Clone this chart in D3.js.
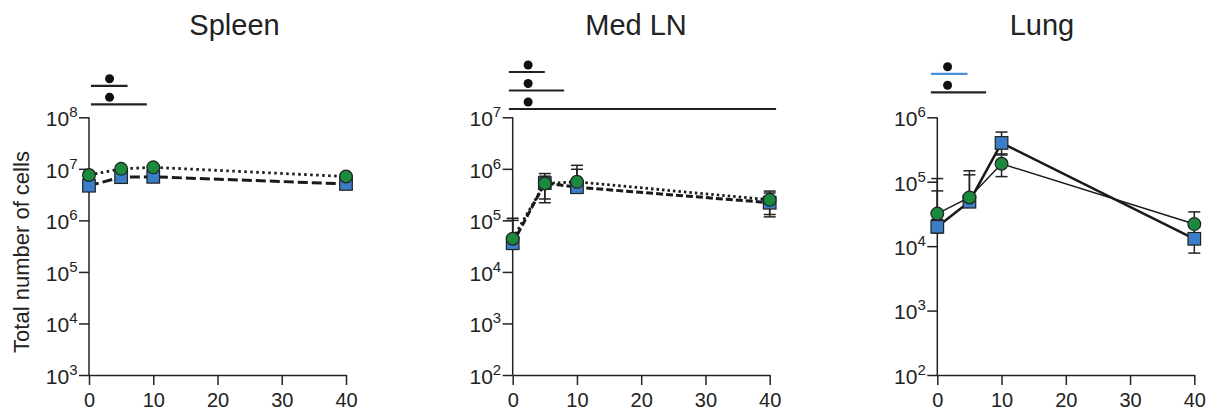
<!DOCTYPE html>
<html>
<head>
<meta charset="utf-8">
<script src="https://cdn.jsdelivr.net/npm/d3@7"></script>
<style>
  body { margin: 0; background: #fff; }
  svg { display: block; font-family: "Liberation Sans", Arial, sans-serif; }
</style>
</head>
<body>
<svg id="chart" width="1213" height="415"></svg>
<script>
// time points (x) and axis ticks
var days = [0, 5, 10, 40];
var xTicks = [0, 10, 20, 30, 40];
var panelNames = ["Spleen", "Med LN", "Lung"];

// y axis decades (exponents of 10) for each panel
var spleenExp = [3, 4, 5, 6, 7, 8];
var medExp = [2, 3, 4, 5, 6, 7];
var lungExp = [2, 3, 4, 5, 6];

// Spleen values
var spleenBlue = [4.7e6, 6.9e6, 7.0e6, 5.1e6];
var spleenGreen = [7.6e6, 1.0e7, 1.07e7, 7.1e6];
var spleenBlueHi = [5.3e6, 7.6e6, 7.7e6, 5.6e6];
var spleenBlueLo = [4.2e6, 6.3e6, 6.4e6, 4.6e6];
var spleenGreenHi = [8.4e6, 1.1e7, 1.15e7, 7.8e6];
var spleenGreenLo = [6.9e6, 9.2e6, 9.8e6, 6.5e6];

// Med LN values
var medBlue = [3.6e4, 5.3e5, 4.4e5, 2.2e5];
var medGreen = [4.4e4, 5.2e5, 5.6e5, 2.5e5];
var medBlueHi = [1.1e5, 8.1e5, 9.8e5, 3.7e5];
var medBlueLo = [3.0e4, 2.2e5, 3.4e5, 1.17e5];
var medGreenHi = [1.0e5, 7.2e5, 1.17e6, 3.4e5];
var medGreenLo = [3.6e4, 2.6e5, 4.2e5, 1.3e5];

// Lung values
var lungBlue = [2.0e4, 4.9e4, 4.0e5, 1.3e4];
var lungGreen = [3.2e4, 5.7e4, 1.9e5, 2.2e4];
var lungBlueHi = [7.2e4, 1.28e5, 5.9e5, 2.0e4];
var lungBlueLo = [1.6e4, 4.0e4, 2.7e5, 7.8e3];
var lungGreenHi = [1.12e5, 1.48e5, 2.6e5, 3.4e4];
var lungGreenLo = [2.6e4, 4.7e4, 1.2e5, 1.6e4];

// significance bars: start / end in days, dot position in days
var spleenSigStart = [0.3, 0.3];
var spleenSigEnd = [6, 9];
var spleenSigColor = ["#222", "#222"];
var medSigStart = [-0.6, -0.6, -0.6];
var medSigEnd = [5, 8, 41];
var medSigColor = ["#222", "#222", "#222"];
var lungSigStart = [-1, -1];
var lungSigEnd = [4.7, 7.6];
var lungSigColor = ["#4a90d9", "#222"];
var sigDot = [3.2, 2.4, 1.6];

var blueFill = "#3b7dc6";
var greenFill = "#1b8a3d";

var panels = [
    {name: panelNames[0], exp: spleenExp, left: 89, titleX: 234.5, sigBottom: 104.3,
     blue: {v: spleenBlue, hi: spleenBlueHi, lo: spleenBlueLo},
     green: {v: spleenGreen, hi: spleenGreenHi, lo: spleenGreenLo},
     sig: {s: spleenSigStart, e: spleenSigEnd, c: spleenSigColor},
     blueLine: {w: 3, dash: "10,4"}, greenLine: {w: 2.8, dash: "2.5,3.5"}},
    {name: panelNames[1], exp: medExp, left: 512.7, titleX: 636, sigBottom: 109,
     blue: {v: medBlue, hi: medBlueHi, lo: medBlueLo},
     green: {v: medGreen, hi: medGreenHi, lo: medGreenLo},
     sig: {s: medSigStart, e: medSigEnd, c: medSigColor},
     blueLine: {w: 3, dash: "7,3"}, greenLine: {w: 2.8, dash: "2.5,3"}},
    {name: panelNames[2], exp: lungExp, left: 937.3, titleX: 1042, sigBottom: 92.3,
     blue: {v: lungBlue, hi: lungBlueHi, lo: lungBlueLo},
     green: {v: lungGreen, hi: lungGreenHi, lo: lungGreenLo},
     sig: {s: lungSigStart, e: lungSigEnd, c: lungSigColor},
     blueLine: {w: 2.6, dash: null}, greenLine: {w: 1.5, dash: null}}
];

var plotTop = 117.3;
var plotBottom = 375;
var plotWidth = 257;
var axisColor = "#222";

var svg = d3.select("#chart");

// y axis label
svg.append("text")
    .attr("transform", "translate(29,252) rotate(-90)")
    .attr("text-anchor", "middle")
    .attr("font-size", "22px")
    .attr("fill", "#222")
    .text("Total number of cells");

panels.forEach(function (p, pi) {
    var xScale = d3.scaleLinear().domain([0, 40]).range([p.left, p.left + plotWidth]);
    var yScale = d3.scaleLog()
        .domain([Math.pow(10, p.exp[0]), Math.pow(10, p.exp[p.exp.length - 1])])
        .range([plotBottom, plotTop]);

    var g = svg.append("g");

    // title
    g.append("text")
        .attr("x", p.titleX)
        .attr("y", 35)
        .attr("text-anchor", "middle")
        .attr("font-size", "29px")
        .attr("fill", "#222")
        .text(p.name);

    // axes
    var yAxis = d3.axisLeft(yScale)
        .tickValues(p.exp.map(function (e) { return Math.pow(10, e); }))
        .tickSize(10)
        .tickPadding(1.5)
        .tickFormat("");
    var yg = g.append("g")
        .attr("transform", "translate(" + p.left + ",0)")
        .call(yAxis);
    yg.select(".domain").attr("d", "M0," + plotTop + "V" + plotBottom);
    yg.selectAll(".tick text")
        .attr("font-size", "21px")
        .attr("fill", "#222")
        .attr("dy", "0.4em")
        .each(function (d, i) {
            var t = d3.select(this);
            t.text("10");
            t.append("tspan")
                .attr("font-size", "15px")
                .attr("dy", "-9")
                .text(p.exp[i]);
        });

    var xAxis = d3.axisBottom(xScale)
        .tickValues(xTicks)
        .tickSize(10)
        .tickPadding(8)
        .tickSizeOuter(0);
    var xg = g.append("g")
        .attr("transform", "translate(0," + plotBottom + ")")
        .call(xAxis);
    xg.selectAll(".tick text").attr("font-size", "20px").attr("fill", "#222");

    g.selectAll(".domain, .tick line")
        .attr("stroke", axisColor)
        .attr("stroke-width", 1.5);

    // significance bars
    var sig = p.sig;
    sig.e.forEach(function (end, i) {
        var y = p.sigBottom - (sig.e.length - 1 - i) * 18.5;
        g.append("line")
            .attr("x1", xScale(sig.s[i]))
            .attr("x2", xScale(end))
            .attr("y1", y)
            .attr("y2", y)
            .attr("stroke", sig.c[i])
            .attr("stroke-width", 2.2);
        g.append("circle")
            .attr("cx", xScale(sigDot[pi]))
            .attr("cy", y - 7)
            .attr("r", 4.5)
            .attr("fill", "#111");
    });

    // error bars
    [p.blue, p.green].forEach(function (s) {
        days.forEach(function (d, i) {
            var x = xScale(d);
            var yHi = yScale(s.hi[i]);
            var yLo = yScale(s.lo[i]);
            g.append("line")
                .attr("x1", x).attr("x2", x)
                .attr("y1", yHi).attr("y2", yLo)
                .attr("stroke", "#222").attr("stroke-width", 1.5);
            [yHi, yLo].forEach(function (yy) {
                g.append("line")
                    .attr("x1", x - 6).attr("x2", x + 6)
                    .attr("y1", yy).attr("y2", yy)
                    .attr("stroke", "#222").attr("stroke-width", 1.5);
            });
        });
    });

    // lines
    var line = d3.line()
        .x(function (d, i) { return xScale(days[i]); })
        .y(function (d) { return yScale(d); });

    [[p.blue, p.blueLine], [p.green, p.greenLine]].forEach(function (pair) {
        g.append("path")
            .attr("d", line(pair[0].v))
            .attr("fill", "none")
            .attr("stroke", "#1a1a1a")
            .attr("stroke-width", pair[1].w)
            .attr("stroke-dasharray", pair[1].dash);
    });

    // markers: blue squares, then green circles on top
    g.selectAll(".sq")
        .data(p.blue.v)
        .enter()
        .append("rect")
        .attr("x", function (d, i) { return xScale(days[i]) - 6.3; })
        .attr("y", function (d) { return yScale(d) - 6.3; })
        .attr("width", 12.6)
        .attr("height", 12.6)
        .attr("fill", blueFill)
        .attr("stroke", "#222")
        .attr("stroke-width", 1.2);

    g.selectAll(".dot")
        .data(p.green.v)
        .enter()
        .append("circle")
        .attr("cx", function (d, i) { return xScale(days[i]); })
        .attr("cy", function (d) { return yScale(d); })
        .attr("r", 6.4)
        .attr("fill", greenFill)
        .attr("stroke", "#222")
        .attr("stroke-width", 1.2);
});
</script>
</body>
</html>
